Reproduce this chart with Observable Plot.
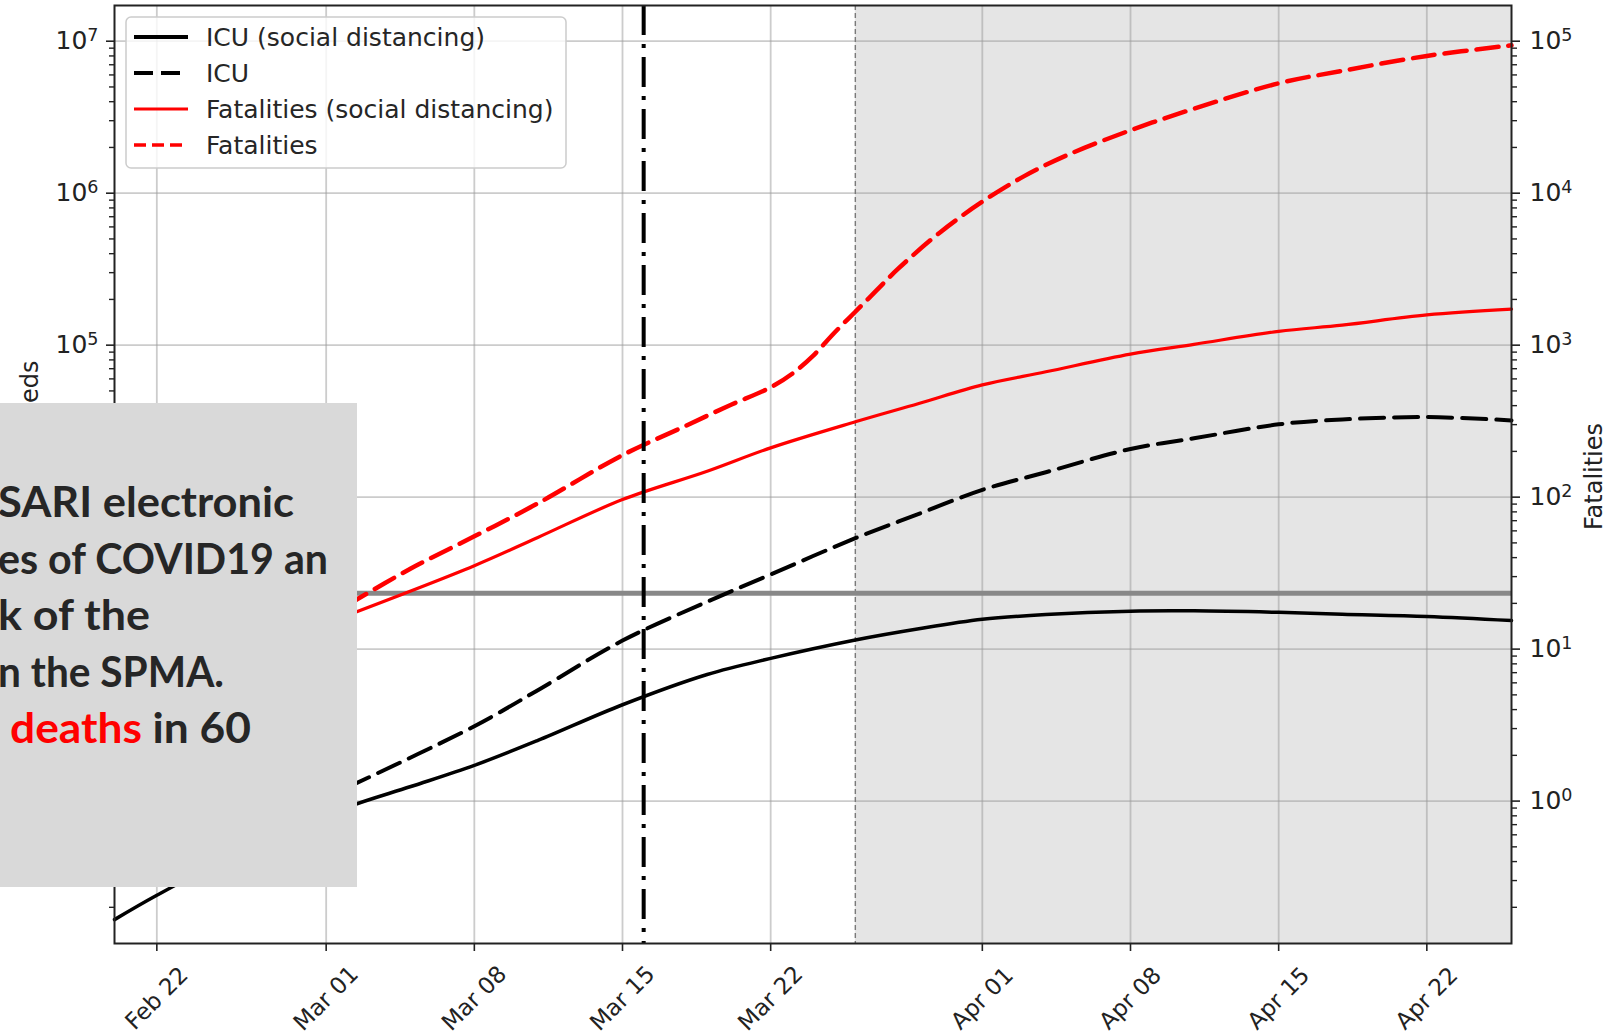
<!DOCTYPE html>
<html><head><meta charset="utf-8">
<script src="https://cdn.jsdelivr.net/npm/d3@7"></script>
<script src="https://cdn.jsdelivr.net/npm/@observablehq/plot@0.6"></script>
<style>
html,body{margin:0;padding:0;background:#fff;}
#wrap{position:relative;width:1608px;height:1035px;overflow:hidden;}
#legend{position:absolute;left:0;top:0;}
#note{position:absolute;left:0;top:403px;width:357px;height:484px;background:#d9d9d9;overflow:hidden;}
</style>
</head><body><div id="wrap"></div>
<script>
// ---------------- data ----------------
const xStart = "2020-02-20", xEnd = "2020-04-26";
const interventionDate = "2020-03-16";
const forecastStart = "2020-03-26";
const tickDates = ["2020-02-22","2020-03-01","2020-03-08","2020-03-15","2020-03-22","2020-04-01","2020-04-08","2020-04-15","2020-04-22"];
const tickLabels = ["Feb 22","Mar 01","Mar 08","Mar 15","Mar 22","Apr 01","Apr 08","Apr 15","Apr 22"];
const bedTicks = [1e2,1e3,1e4,1e5,1e6,1e7];       // left axis (ICU beds)
const fatalityTicks = [1,10,100,1e3,1e4,1e5];     // right axis (fatalities)
const fatalityAxisFactor = 100;                   // left value = 100 x right value
const icuCapacity = [2330];                       // horizontal grey line (beds)

const icuSdDates = ["2020-02-20","2020-02-22","2020-02-26","2020-03-02","2020-03-05","2020-03-08","2020-03-11","2020-03-15","2020-03-19","2020-03-22","2020-03-26","2020-03-29","2020-04-01","2020-04-04","2020-04-08","2020-04-11","2020-04-15","2020-04-18","2020-04-22","2020-04-26"];
const icuSdBeds = [16.6,24.0,46.8,91.2,124.7,171.8,250.6,430.5,681,869,1148,1361,1570,1690,1778,1786,1746,1698,1641,1542];

const icuDates = ["2020-03-02","2020-03-08","2020-03-11","2020-03-15","2020-03-19","2020-03-22","2020-03-26","2020-03-29","2020-04-01","2020-04-04","2020-04-08","2020-04-11","2020-04-15","2020-04-18","2020-04-22","2020-04-26"];
const icuBeds = [123,311,537,1138,2050,3100,5370,7762,11170,14590,20750,24380,30130,32430,33650,31990];

const fatSdDates = ["2020-03-02","2020-03-08","2020-03-11","2020-03-15","2020-03-19","2020-03-22","2020-03-26","2020-03-29","2020-04-01","2020-04-04","2020-04-08","2020-04-11","2020-04-15","2020-04-18","2020-04-22","2020-04-26"];
const fatSdDeaths = [16.7,35.4,54.3,96.4,148,211,313,413,548,668,873,1012,1233,1355,1581,1726];

const fatDates = ["2020-03-02","2020-03-05","2020-03-08","2020-03-11","2020-03-15","2020-03-18","2020-03-20","2020-03-22","2020-03-23","2020-03-24","2020-03-25","2020-03-26","2020-03-27","2020-03-28","2020-03-30","2020-04-01","2020-04-03","2020-04-05","2020-04-08","2020-04-11","2020-04-15","2020-04-18","2020-04-22","2020-04-26"];
const fatDeaths = [19.5,33.9,55.2,91,189,295,398,528,646,851,1202,1660,2291,3162,5521,8790,13000,17780,25940,35970,52840,63830,79980,93970];

const seriesNames = ["ICU (social distancing)","ICU","Fatalities (social distancing)","Fatalities"];
const seriesColors = ["#000000","#000000","#ff0000","#ff0000"];

// ---------------- build ----------------
const parse = d3.utcParse("%Y-%m-%d");
const rows = (ds, vs) => ds.map((d, i) => ({date: parse(d), value: vs[i]}));
const icuSd = rows(icuSdDates, icuSdBeds);
const icu = rows(icuDates, icuBeds);
const fatSd = rows(fatSdDates, fatSdDeaths);
const fat = rows(fatDates, fatDeaths);
const ticks = tickDates.map(parse);

const pow = v => "10^" + Math.round(Math.log10(v));
const minor = [];
for (let k = 1; k <= 7; k++) for (let m = 2; m <= 9; m++) minor.push(m * 10 ** k);

const FONT = "DejaVu Sans";
const gridStyle = {stroke: "#9a9a9a", strokeOpacity: 0.5, strokeWidth: 1.8};
const CURVE = "catmull-rom";

const chart = Plot.plot({
  width: 1608, height: 1035,
  marginTop: 5, marginBottom: 92, marginLeft: 114, marginRight: 97,
  style: {fontFamily: FONT, color: "#222", background: "transparent"},
  x: {type: "utc", domain: [parse(xStart), parse(xEnd)]},
  y: {type: "log", domain: [10 ** 1.063, 10 ** 7.235]},
  marks: [
    Plot.rect([{a: parse(forecastStart), b: parse(xEnd)}], {x1: "a", x2: "b", fill: "#e5e5e5"}),
    Plot.gridX(ticks, gridStyle),
    Plot.gridY(bedTicks, gridStyle),
    Plot.ruleX([parse(forecastStart)], {stroke: "#7a7a7a", strokeWidth: 1.4, strokeDasharray: "5,3"}),
    Plot.ruleY(icuCapacity, {stroke: "#888888", strokeWidth: 5}),
    Plot.line(icuSd, {x: "date", y: "value", stroke: seriesColors[0], strokeWidth: 3.5, curve: CURVE}),
    Plot.line(icu, {x: "date", y: "value", stroke: seriesColors[1], strokeWidth: 4, strokeDasharray: "24,10", curve: CURVE}),
    Plot.line(fatSd, {x: "date", y: d => d.value * fatalityAxisFactor, stroke: seriesColors[2], strokeWidth: 3.2, curve: CURVE}),
    Plot.line(fat, {x: "date", y: d => d.value * fatalityAxisFactor, stroke: seriesColors[3], strokeWidth: 4.5, strokeDasharray: "22,10", curve: CURVE}),
    Plot.ruleX([parse(interventionDate)], {stroke: "#000", strokeWidth: 4, strokeDasharray: "30,9,4,9"}),
    // axes
    Plot.axisY(minor, {anchor: "left", tickSize: 5, tickFormat: () => "", strokeWidth: 1.4, label: null}),
    Plot.axisY(minor, {anchor: "right", tickSize: 5, tickFormat: () => "", strokeWidth: 1.4, label: null}),
    Plot.axisY(bedTicks, {anchor: "left", tickSize: 8, tickPadding: 8, tickFormat: pow, fontSize: 25, strokeWidth: 1.6, label: null}),
    Plot.axisY(fatalityTicks.map(v => v * fatalityAxisFactor), {anchor: "right", tickSize: 8, tickPadding: 10, tickFormat: v => pow(v / fatalityAxisFactor), fontSize: 25, strokeWidth: 1.6, label: null}),
    Plot.axisX(ticks, {anchor: "bottom", tickSize: 8, tickFormat: () => "", strokeWidth: 1.6, label: null}),
    Plot.text(ticks, {x: d => d, text: (d, i) => tickLabels[i], frameAnchor: "bottom", dy: 55, rotate: -45, textAnchor: "middle", lineAnchor: "middle", fontSize: 23, fill: "#222"}),
    Plot.text(["Number of ICU beds"], {frameAnchor: "top-left", dx: -84, dy: 355, rotate: -90, textAnchor: "end", lineAnchor: "middle", fontSize: 24, fill: "#222"}),
    Plot.text(["Fatalities"], {frameAnchor: "right", dx: 83, dy: 2, rotate: -90, textAnchor: "middle", lineAnchor: "middle", fontSize: 24, fill: "#222"}),
    Plot.frame({stroke: "#222", strokeWidth: 2})
  ]
});

// matplotlib-style superscript exponents on the log axes
d3.select(chart).selectAll("text").each(function () {
  const m = /^10\^(-?\d+)$/.exec(this.textContent);
  if (!m) return;
  const t = d3.select(this);
  t.text("");
  t.append("tspan").text("10");
  t.append("tspan").attr("dy", "-0.45em").attr("font-size", "0.7em").text(m[1]);
});

const wrap = document.getElementById("wrap");
wrap.appendChild(chart);

// ---------------- legend (inside plot area) ----------------
const lg = d3.select(wrap).append("svg").attr("id", "legend").attr("width", 1608).attr("height", 200);
lg.append("rect").attr("x", 126).attr("y", 17).attr("width", 440).attr("height", 151).attr("rx", 5)
  .attr("fill", "#fff").attr("fill-opacity", 0.8).attr("stroke", "#cccccc").attr("stroke-width", 1.5);
const legendDash = [null, "19,8", null, "12,6"];
const legendWidth = [3.8, 3.8, 3, 3.4];
seriesNames.forEach((name, i) => {
  const y = 37 + i * 36;
  lg.append("line").attr("x1", 134).attr("x2", 188).attr("y1", y).attr("y2", y)
    .attr("stroke", seriesColors[i]).attr("stroke-width", legendWidth[i])
    .attr("stroke-dasharray", legendDash[i]);
  lg.append("text").attr("x", 206).attr("y", y).attr("dy", "0.36em")
    .attr("font-family", FONT).attr("font-size", 25).attr("fill", "#262626").text(name);
});

// ---------------- slide annotation box overlapping the chart ----------------
const noteLines = ["SARI electronic", "es of COVID19 an", "k of the", "n the SPMA."];
const noteWidths = [296, 330, 152, 226];
const note = d3.select(wrap).append("div").attr("id", "note")
  .append("svg").attr("width", 357).attr("height", 484);
const nf = {family: "Lato, 'Open Sans', sans-serif", size: 42};
noteLines.forEach((t, i) => {
  note.append("text").attr("x", -2).attr("y", 114 + i * 56.6)
    .attr("font-family", nf.family).attr("font-weight", 700).attr("font-size", nf.size)
    .attr("textLength", noteWidths[i]).attr("lengthAdjust", "spacingAndGlyphs")
    .attr("fill", "#262626").text(t);
});
const last = note.append("text").attr("x", 10).attr("y", 114 + 4 * 56.6)
  .attr("font-family", nf.family).attr("font-weight", 700).attr("font-size", nf.size).attr("fill", "#262626")
  .attr("textLength", 241).attr("lengthAdjust", "spacingAndGlyphs");
last.append("tspan").attr("fill", "#ff0000").text("deaths");
last.append("tspan").text(" in 60");
</script>
</body></html>
